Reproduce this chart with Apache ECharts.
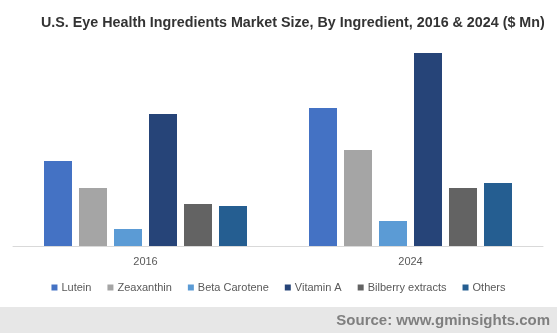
<!DOCTYPE html>
<html>
<head>
<meta charset="utf-8">
<script src="https://cdn.jsdelivr.net/npm/echarts@6/dist/echarts.min.js"></script>
<style>
html,body{margin:0;padding:0;background:#fff;}
#chart{width:557px;height:333px;}
</style>
</head>
<body>
<div id="chart"></div>
<script>
var categories = ['2016', '2024'];
var seriesNames = ['Lutein', 'Zeaxanthin', 'Beta Carotene', 'Vitamin A', 'Bilberry extracts', 'Others'];
var lutein = [85, 138];
var zeaxanthin = [58, 96];
var betaCarotene = [17, 25];
var vitaminA = [132, 193];
var bilberry = [42, 58];
var others = [40, 63];
var colors = ['#4472C4', '#A5A5A5', '#5B9BD5', '#264478', '#636363', '#255E91'];

var values = [lutein, zeaxanthin, betaCarotene, vitaminA, bilberry, others];

var chart = echarts.init(document.getElementById('chart'), null, {renderer: 'canvas'});
var series = seriesNames.map(function (n, i) {
  return {
    name: n,
    type: 'bar',
    data: values[i],
    barWidth: 28,
    barGap: '25%',
    itemStyle: {color: colors[i]}
  };
});

chart.setOption({
  animation: false,
  color: colors,
  title: {
    text: 'U.S. Eye Health Ingredients Market Size, By Ingredient, 2016 & 2024 ($ Mn)',
    left: 36,
    top: 11,
    textStyle: {fontFamily: 'Liberation Sans, Arial', fontWeight: 'bold', fontSize: 14.3, color: '#333333'}
  },
  legend: {
    data: seriesNames,
    left: 'center',
    top: 277,
    itemWidth: 6,
    itemHeight: 6,
    itemGap: 16,
    icon: 'rect',
    textStyle: {fontFamily: 'Liberation Sans, Arial', fontSize: 11, color: '#595959', padding: [0, 0, 0, -1]}
  },
  grid: {left: 13, right: 14, top: 46, height: 200, containLabel: false},
  xAxis: {
    type: 'category',
    data: categories,
    axisLine: {lineStyle: {color: '#D9D9D9', width: 1}},
    axisTick: {show: false},
    axisLabel: {fontFamily: 'Liberation Sans, Arial', fontSize: 11, color: '#595959', margin: 10}
  },
  yAxis: {
    type: 'value',
    min: 0,
    max: 200,
    show: false,
    splitLine: {show: false}
  },
  graphic: [
    {type: 'rect', left: 0, top: 307, shape: {width: 557, height: 26}, style: {fill: '#E7E7E7'}, silent: true},
    {type: 'text', right: 7, top: 313, style: {text: 'Source: www.gminsights.com', font: 'bold 15px "Liberation Sans", Arial', fill: '#7F7F7F'}}
  ],
  series: series
});
</script>
</body>
</html>
